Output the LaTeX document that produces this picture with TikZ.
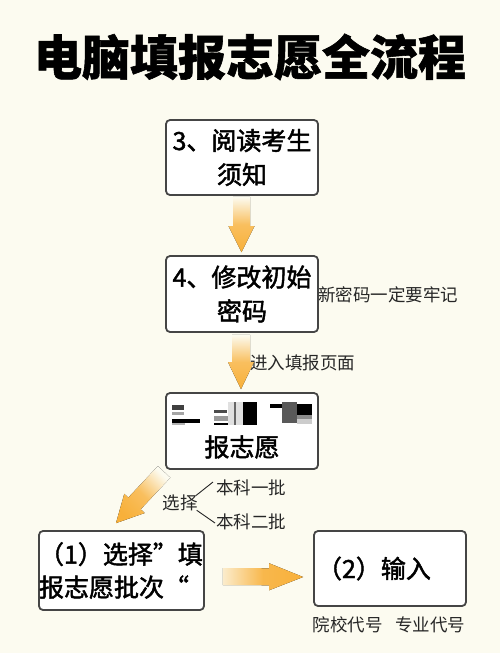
\documentclass[tikz,border=0pt]{standalone}
\usepackage{fontspec}
\setmainfont{Noto Sans CJK SC}
\newfontfamily\medfont[FakeBold=1.8]{Noto Sans CJK SC}
\newfontfamily\titlefont[BoldFeatures={FakeBold=1.2}]{Noto Sans CJK SC}
\usetikzlibrary{calc}
\definecolor{bg}{HTML}{FCFBF0}
\definecolor{orng}{HTML}{F8B03A}
\definecolor{boxgray}{HTML}{454545}
\newcommand\fatarrow[6]{%
  \coordinate (fa-n) at ($(#2)!#5!(#1)$);
  \fill[#6] ($(#1)!#3!90:(#2)$) -- ($(fa-n)!#3!90:(#2)$) -- ($(fa-n)!#4!90:(#2)$)
    -- (#2) -- ($(fa-n)!#4!-90:(#2)$) -- ($(fa-n)!#3!-90:(#2)$) -- ($(#1)!#3!-90:(#2)$) -- cycle;}
\begin{document}
\begin{tikzpicture}[x=1pt,y=-1pt,
  box/.style={draw=boxgray, line width=1.8pt, rounded corners=4pt, fill=white,
    minimum width=152pt, minimum height=75pt, inner sep=0pt, align=center,
    font=\medfont\fontsize{25}{34}\selectfont},
  note/.style={font=\fontsize{17.5}{20}\selectfont, inner sep=0pt, text=black!85},
  ttl/.style={font=\titlefont\bfseries\fontsize{48}{50}\selectfont}]
\useasboundingbox (0,0) rectangle (500,653);
\fill[bg] (0,0) rectangle (500,653);

\node[ttl] (title) at (250,57) {电脑填报志愿全流程};

\node[box] (b1) at (242,157.5) {3、阅读考生\\须知};
\node[box, minimum height=76pt] (b2) at (242,294) {4、修改初始\\密码};
\node[box, minimum height=76pt] (b3) at (242,431) {};
\node[font=\medfont\fontsize{25}{30}\selectfont, inner sep=0pt] (b3t) at (242,447) {报志愿};
\node[box, minimum width=165pt, minimum height=79pt, text width=165pt, align=left,
  font=\medfont\fontsize{25}{33}\selectfont] (b4) at (121.5,570.5) {（1）选择”填\\报志愿批次“};
\node[box, minimum height=75pt, text width=146pt, align=left] (b5) at (390,568.5) {（2）输入};

% pixelated picture inside box 3
\fill[black!75] (172,405) rectangle (184,410);
\fill[black!35] (172,411.5) rectangle (184,415);
\fill[black] (172,419) rectangle (200,422.5);
\fill[black!30] (172,422.5) rectangle (185,425);
\fill[black!70] (214,410) rectangle (227,413);
\fill[black!40] (214,416) rectangle (229,421);
\fill[black] (214,422.5) rectangle (234,424.5);
\fill[black!12] (228,402) rectangle (243,425);
\fill[black!60] (234,402) rectangle (235.5,425);
\fill[black] (243,401.5) rectangle (257,425);
\fill[black] (270,404) rectangle (312,408);
\fill[black!65] (282,401.5) rectangle (297,423);
\fill[black] (297,408) rectangle (312,415);
\fill[black!45] (297,415) rectangle (312,419);
\fill[black!20] (297,419) rectangle (312,424);

% notes
\node[note, anchor=west] (n1) at (318,295) {新密码一定要牢记};
\node[note, anchor=west] (n2) at (250,363) {进入填报页面};
\node[note] (sel) at (180,503) {选择};
\node[note, anchor=west] (k1) at (216,488) {本科一批};
\node[note, anchor=west] (k2) at (216,522) {本科二批};
\node[note] (codes) at (389,625) {院校代号\hspace{13pt}专业代号};

\draw[line width=0.9pt, black!85] ([xshift=-2pt,yshift=-1pt]sel.north east) -- ([xshift=-3pt,yshift=6pt]k1.west);
\draw[line width=0.9pt, black!85] ([xshift=-1pt,yshift=1pt]sel.south east) -- ([xshift=-1pt,yshift=-1pt]k2.west);

% fat arrows
\coordinate (a1s) at ([xshift=-0.5pt,yshift=-1pt]b1.south);
\coordinate (a1e) at ([xshift=-0.5pt,yshift=3pt]b2.north);
\fatarrow{a1s}{a1e}{8.5pt}{13pt}{26pt}{top color=bg, bottom color=orng, middle color=orng!80!bg}
\coordinate (a2s) at ([xshift=-1pt,yshift=-2pt]b2.south);
\coordinate (a2e) at ([xshift=-1pt,yshift=3pt]b3.north);
\fatarrow{a2s}{a2e}{9pt}{13pt}{27pt}{top color=bg, bottom color=orng, middle color=orng!80!bg}
\coordinate (a3s) at ([xshift=-1pt,yshift=-2pt]b3.south west);
\coordinate (a3e) at ([xshift=-5.5pt,yshift=7pt]b4.north);
\fatarrow{a3s}{a3e}{8.5pt}{14pt}{27pt}{top color=bg, bottom color=orng, middle color=orng!80!bg, shading angle=-45}
\coordinate (a4s) at ([xshift=18pt,yshift=-6pt]b4.east);
\coordinate (a4e) at ([xshift=-10pt,yshift=-8.5pt]b5.west);
\fatarrow{a4s}{a4e}{8.5pt}{13.5pt}{34pt}{left color=orng!20!bg, right color=orng, middle color=orng!90!bg}
\end{tikzpicture}
\end{document}
